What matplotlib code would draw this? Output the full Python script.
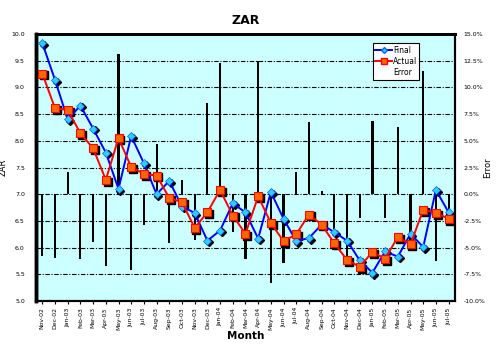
import matplotlib
matplotlib.use("Agg")
import matplotlib.pyplot as plt
import matplotlib.transforms as mtransforms
from matplotlib.lines import Line2D
from matplotlib.patches import Patch
from matplotlib.ticker import FuncFormatter, MultipleLocator

months = ["Nov-02", "Dec-02", "Jan-03", "Feb-03", "Mar-03", "Apr-03", "May-03",
          "Jun-03", "Jul-03", "Aug-03", "Sep-03", "Oct-03", "Nov-03", "Dec-03",
          "Jan-04", "Feb-04", "Mar-04", "Apr-04", "May-04", "Jun-04", "Jul-04",
          "Aug-04", "Sep-04", "Oct-04", "Nov-04", "Dec-04", "Jan-05", "Feb-05",
          "Mar-05", "Apr-05", "May-05", "Jun-05", "Jul-05"]

final = [9.83, 9.14, 8.40, 8.66, 8.23, 7.78, 7.10, 8.09, 7.58, 7.00, 7.25,
         6.77, 6.65, 6.13, 6.32, 6.83, 6.66, 6.17, 7.04, 6.54, 6.12, 6.18,
         6.43, 6.29, 6.13, 5.76, 5.53, 5.93, 5.83, 6.26, 6.01, 7.08, 6.66]

actual = [9.26, 8.61, 8.58, 8.14, 7.86, 7.27, 8.05, 7.51, 7.38, 7.35, 6.93,
          6.85, 6.37, 6.66, 7.08, 6.60, 6.26, 6.96, 6.46, 6.12, 6.25, 6.62,
          6.43, 6.08, 5.77, 5.64, 5.92, 5.79, 6.20, 6.06, 6.71, 6.65, 6.54]

# forecast error in percent (right axis)
error = [-5.8, -6.0, 2.1, -6.1, -4.5, -6.7, 13.1, -7.1, -2.9, 4.7, -4.6,
         1.3, -4.3, 8.5, 12.3, -3.5, -6.1, 12.5, -8.3, -6.4, 2.1, 6.8,
         0.3, -3.3, -6.1, -2.2, 6.9, -2.2, 6.3, -4.4, 11.5, -6.3, -1.9]

x = list(range(len(months)))

fig = plt.figure(figsize=(4.97, 3.44), dpi=100)
fig.patch.set_facecolor("white")
ax = fig.add_axes([0.0724, 0.125, 0.843, 0.776])
ax2 = ax.twinx()

# secondary axis sits underneath and carries the background colour
ax2.set_zorder(0)
ax2.patch.set_visible(True)
ax2.patch.set_facecolor("#CCFFFF")
ax.set_zorder(1)
ax.patch.set_visible(False)

# error columns, drawn behind the rate lines
ax2.bar(x, error, width=0.17, color="black", zorder=1)
ax2.set_ylim(-10, 15)
ax2.yaxis.set_major_locator(MultipleLocator(2.5))
ax2.yaxis.set_major_formatter(FuncFormatter(lambda v, p: f"{v:.1f}%"))
ax2.tick_params(axis="y", labelsize=4.5, length=0, pad=6)
ax2.set_ylabel("Error", fontsize=6)
ax2.yaxis.set_label_coords(1.068, 0.5)

for v in [5.5, 6.0, 6.5, 7.0, 7.5, 8.0, 8.5, 9.0, 9.5]:
    ax2.axhline((v - 7.0) * 5, color="black", lw=0.8,
                ls=(0, (4, 1.5, 1, 1.5)), zorder=0.5)

# drop shadows under the markers
shadow = mtransforms.offset_copy(ax.transData, fig=fig, x=1.3, y=-1.3, units="points")
ax.plot(x, final, ls="none", marker="D", ms=3.6, color="black", transform=shadow, zorder=2)
ax.plot(x, actual, ls="none", marker="s", ms=5.3, color="black", transform=shadow, zorder=2)

ax.plot(x, final, color="#0000FF", lw=1.4, marker="D", ms=3.6,
        mfc="#33CCFF", mec="#0066FF", mew=0.5, zorder=3)
ax.plot(x, actual, color="#FF0000", lw=1.4, marker="s", ms=5.3,
        mfc="#FF6600", mec="#FF0000", mew=0.8, zorder=4)

ax.set_xlim(-0.5, len(months) - 0.5)
ax.set_ylim(5.0, 10.0)
ax.yaxis.set_major_locator(MultipleLocator(0.5))
ax.yaxis.set_major_formatter(FuncFormatter(lambda v, p: f"{v:.1f}"))
ax.tick_params(axis="y", labelsize=4.5, length=0, pad=8)
ax.set_xticks(x)
ax.set_xticklabels(months, rotation=90, fontsize=4.4)
ax.tick_params(axis="x", length=2.5, width=0.8, pad=2)

ax.set_title("ZAR", fontsize=9, fontweight="bold", pad=7)
ax.set_xlabel("Month", fontsize=7.5, fontweight="bold")
ax.xaxis.set_label_coords(0.5, -0.112)
ax.set_ylabel("ZAR", fontsize=6)
ax.yaxis.set_label_coords(-0.067, 0.5)

for side, lw in [("left", 2.5), ("top", 2.0), ("right", 1.5), ("bottom", 1.5)]:
    ax.spines[side].set_linewidth(lw)
    ax2.spines[side].set_linewidth(lw)

handles = [
    Line2D([], [], color="#0000FF", lw=1.4, marker="D", ms=3, mfc="#33CCFF", mec="#0066FF"),
    Line2D([], [], color="#FF0000", lw=1.4, marker="s", ms=4, mfc="#FF6600", mec="#FF0000"),
    Patch(facecolor="none", edgecolor="none"),
]
leg = ax.legend(handles, ["Final", "Actual", "Error"], loc="upper right",
                bbox_to_anchor=(0.915, 0.965), fontsize=5.5, frameon=True,
                fancybox=False, edgecolor="black", framealpha=1,
                handlelength=2.2, handletextpad=0.1, borderpad=0.3,
                labelspacing=0.3, borderaxespad=0)
leg.get_frame().set_linewidth(0.8)

fig.savefig("out.png", dpi=100)
